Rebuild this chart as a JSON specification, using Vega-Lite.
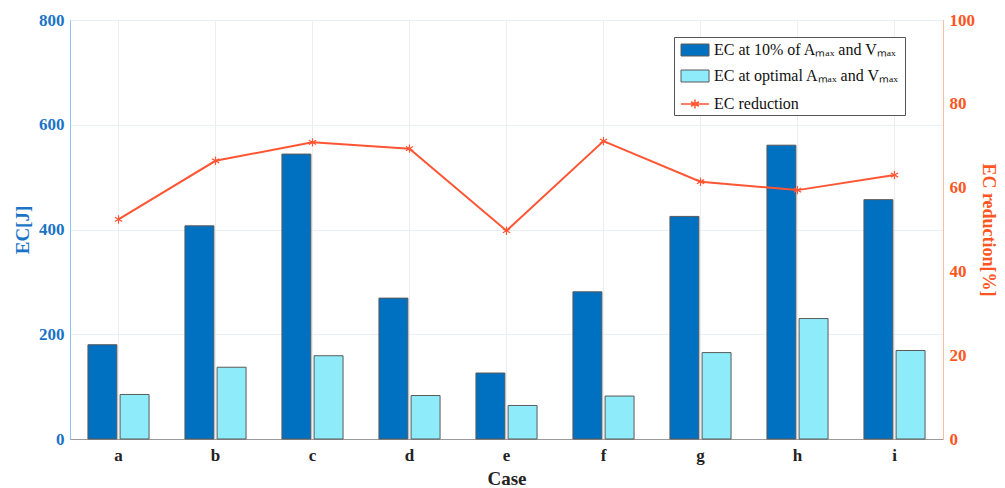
{
  "$schema": "https://vega.github.io/schema/vega-lite/v6.json",
  "autosize": {"type": "none"},
  "padding": {"left": 70, "top": 20, "right": 62, "bottom": 49},
  "width": 873,
  "height": 419,
  "background": "white",
  "config": {
    "view": {"stroke": "#9a9a9a", "strokeWidth": 1},
    "font": "Liberation Serif",
    "legend": {
      "title": null,
      "orient": "none",
      "fillColor": "white",
      "labelFont": "Liberation Serif",
      "labelFontSize": 16,
      "labelColor": "#111",
      "labelOffset": 19,
      "labelLimit": 400,
      "symbolSize": 144,
      "rowPadding": 10
    }
  },
  "datasets": {
    "bars": [
      {"case": "a", "series": "EC at 10% of Aₘₐₓ and Vₘₐₓ", "ec": 180},
      {"case": "a", "series": "EC at optimal Aₘₐₓ and Vₘₐₓ", "ec": 85},
      {"case": "b", "series": "EC at 10% of Aₘₐₓ and Vₘₐₓ", "ec": 407},
      {"case": "b", "series": "EC at optimal Aₘₐₓ and Vₘₐₓ", "ec": 137},
      {"case": "c", "series": "EC at 10% of Aₘₐₓ and Vₘₐₓ", "ec": 544},
      {"case": "c", "series": "EC at optimal Aₘₐₓ and Vₘₐₓ", "ec": 159},
      {"case": "d", "series": "EC at 10% of Aₘₐₓ and Vₘₐₓ", "ec": 269},
      {"case": "d", "series": "EC at optimal Aₘₐₓ and Vₘₐₓ", "ec": 83},
      {"case": "e", "series": "EC at 10% of Aₘₐₓ and Vₘₐₓ", "ec": 126},
      {"case": "e", "series": "EC at optimal Aₘₐₓ and Vₘₐₓ", "ec": 64},
      {"case": "f", "series": "EC at 10% of Aₘₐₓ and Vₘₐₓ", "ec": 281},
      {"case": "f", "series": "EC at optimal Aₘₐₓ and Vₘₐₓ", "ec": 82},
      {"case": "g", "series": "EC at 10% of Aₘₐₓ and Vₘₐₓ", "ec": 425},
      {"case": "g", "series": "EC at optimal Aₘₐₓ and Vₘₐₓ", "ec": 165},
      {"case": "h", "series": "EC at 10% of Aₘₐₓ and Vₘₐₓ", "ec": 561},
      {"case": "h", "series": "EC at optimal Aₘₐₓ and Vₘₐₓ", "ec": 230},
      {"case": "i", "series": "EC at 10% of Aₘₐₓ and Vₘₐₓ", "ec": 457},
      {"case": "i", "series": "EC at optimal Aₘₐₓ and Vₘₐₓ", "ec": 169}
    ],
    "reduction": [
      {"case": "a", "reduction": 52.4},
      {"case": "b", "reduction": 66.4},
      {"case": "c", "reduction": 70.8},
      {"case": "d", "reduction": 69.3},
      {"case": "e", "reduction": 49.7},
      {"case": "f", "reduction": 71.1},
      {"case": "g", "reduction": 61.4},
      {"case": "h", "reduction": 59.4},
      {"case": "i", "reduction": 63.0}
    ]
  },
  "encoding": {
    "x": {
      "field": "case",
      "type": "nominal",
      "scale": {"paddingInner": 0.37, "paddingOuter": 0.185},
      "axis": {
        "title": "Case",
        "labelAngle": 0,
        "labelFont": "Liberation Serif",
        "labelFontWeight": "bold",
        "labelFontSize": 17,
        "labelColor": "#222",
        "labelPadding": 8,
        "titleFont": "Liberation Serif",
        "titleFontWeight": "bold",
        "titleFontSize": 19,
        "titleColor": "#222",
        "titlePadding": 6,
        "domainColor": "#9a9a9a",
        "tickColor": "#777",
        "tickSize": 0,
        "grid": true,
        "gridColor": "#eceef1",
        "bandPosition": 0.5
      }
    }
  },
  "layer": [
    {
      "data": {"name": "bars"},
      "mark": {"type": "bar", "stroke": "#5a5a5a", "strokeWidth": 1},
      "encoding": {
        "xOffset": {"field": "series", "type": "nominal", "scale": {"paddingInner": 0.1}},
        "y": {
          "field": "ec",
          "type": "quantitative",
          "scale": {"domain": [0, 800], "nice": false},
          "axis": {
            "title": "EC[J]",
            "values": [0, 200, 400, 600, 800],
            "labelFont": "Liberation Serif",
            "labelFontWeight": "bold",
            "labelFontSize": 17,
            "labelColor": "#1a73c6",
            "labelPadding": 6,
            "titleFont": "Liberation Serif",
            "titleFontWeight": "bold",
            "titleFontSize": 19,
            "titleColor": "#1a73c6",
            "titlePadding": 6,
            "domainColor": "#8cc4ee",
            "tickColor": "#8cc4ee",
            "tickSize": 0,
            "grid": true,
            "gridColor": "#e8f0f7"
          }
        },
        "color": {
          "field": "series",
          "type": "nominal",
          "scale": {
            "domain": ["EC at 10% of Aₘₐₓ and Vₘₐₓ", "EC at optimal Aₘₐₓ and Vₘₐₓ", "EC reduction"],
            "range": ["#0070c0", "#8eebfa", "#ffffff"]
          },
          "legend": {
            "legendX": 604,
            "legendY": 17,
            "padding": 5,
            "strokeColor": "#555",
            "symbolType": "M-1,-1H3.67V1H-1Z",
            "symbolStrokeColor": "#5a5a5a",
            "symbolStrokeWidth": 1,
            "symbolOpacity": 1
          }
        }
      }
    },
    {
      "data": {"name": "reduction"},
      "encoding": {
        "y": {
          "field": "reduction",
          "type": "quantitative",
          "scale": {"domain": [0, 100], "nice": false},
          "axis": {
            "title": "EC reduction[%]",
            "orient": "right",
            "values": [0, 20, 40, 60, 80, 100],
            "labelFont": "Liberation Serif",
            "labelFontWeight": "bold",
            "labelFontSize": 17,
            "labelColor": "#ff5522",
            "labelPadding": 6,
            "titleFont": "Liberation Serif",
            "titleFontWeight": "bold",
            "titleFontSize": 18,
            "titleColor": "#ff5522",
            "titlePadding": 4,
            "domainColor": "#ffb9a6",
            "tickColor": "#ffb9a6",
            "tickSize": 0,
            "grid": false
          }
        },
        "stroke": {
          "datum": "EC reduction",
          "type": "nominal",
          "scale": {"domain": ["EC reduction"], "range": ["#ff5533"]},
          "legend": {
            "legendX": 606,
            "legendY": 73,
            "padding": 3,
            "strokeColor": null,
            "symbolType": "M-1,0H3.67M1.33,-0.75V0.75M0.68,-0.375L1.98,0.375M0.68,0.375L1.98,-0.375",
            "symbolStrokeWidth": 1.5,
            "symbolFillColor": "transparent"
          }
        }
      },
      "layer": [
        {"mark": {"type": "line", "strokeWidth": 2}},
        {
          "mark": {
            "type": "point",
            "filled": false,
            "strokeWidth": 1.2,
            "size": 70,
            "opacity": 1,
            "shape": "M0,-1V1M-0.87,-0.5L0.87,0.5M-0.87,0.5L0.87,-0.5"
          }
        }
      ]
    }
  ],
  "resolve": {"scale": {"y": "independent"}}
}
